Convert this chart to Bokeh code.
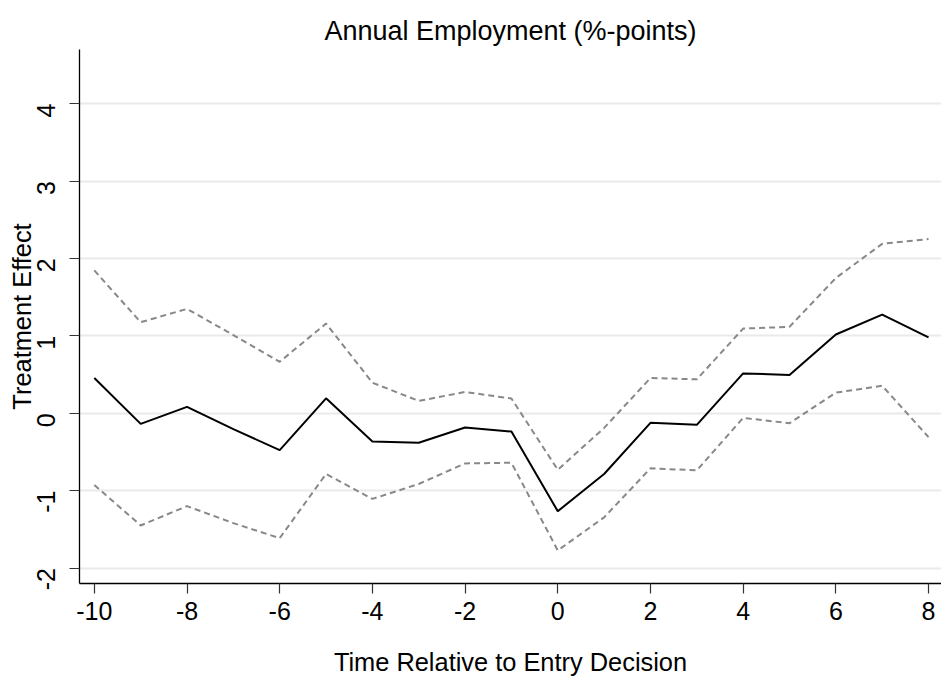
import math
from bokeh.plotting import figure
from bokeh.models import FixedTicker, Range1d, ColumnDataSource
from bokeh.embed import file_html
from bokeh.resources import INLINE

# ---- data ----
years = [-10, -9, -8, -7, -6, -5, -4, -3, -2, -1, 0, 1, 2, 3, 4, 5, 6, 7, 8]
estimate = [0.455, -0.137, 0.082, -0.206, -0.476, 0.193, -0.365, -0.382, -0.185, -0.236,
            -1.266, -0.785, -0.124, -0.150, 0.515, 0.494, 1.017, 1.275, 0.980]
upper_ci = [1.845, 1.176, 1.348, 1.010, 0.665, 1.159, 0.395, 0.159, 0.275, 0.190,
            -0.730, -0.190, 0.455, 0.438, 1.094, 1.116, 1.747, 2.189, 2.250]
lower_ci = [-0.927, -1.450, -1.200, -1.420, -1.614, -0.785, -1.107, -0.914, -0.648, -0.640,
            -1.773, -1.345, -0.712, -0.738, -0.060, -0.129, 0.266, 0.355, -0.308]
x_ticks = [-10, -8, -6, -4, -2, 0, 2, 4, 6, 8]
y_ticks = [-2, -1, 0, 1, 2, 3, 4]

title_text = "Annual Employment (%-points)"
x_label = "Time Relative to Entry Decision"
y_label = "Treatment Effect"

FONT = "Liberation Sans"

src = ColumnDataSource(dict(x=years, est=estimate, up=upper_ci, lo=lower_ci))

p = figure(width=941, height=678, output_backend="svg", toolbar_location=None,
           x_range=Range1d(-10.32, 8.28), y_range=Range1d(-2.20, 4.70),
           min_border_left=79, min_border_right=0, min_border_top=49, min_border_bottom=93,
           title=title_text)

p.background_fill_color = "white"
p.border_fill_color = "white"
p.outline_line_color = None

# title
p.title.text_font = FONT
p.title.text_font_size = "27px"
p.title.text_font_style = "normal"
p.title.text_color = "black"
p.title.align = "center"
p.title.standoff = 7

# grid
p.xgrid.grid_line_color = None
p.ygrid.grid_line_color = "#eaeaea"
p.ygrid.grid_line_width = 2
p.ygrid.ticker = FixedTicker(ticks=y_ticks)

# axes
for ax in (p.xaxis[0], p.yaxis[0]):
    ax.axis_line_color = "black"
    ax.axis_line_width = 1.3
    ax.major_tick_line_color = "#333333"
    ax.major_tick_line_width = 1.2
    ax.major_tick_out = 10
    ax.major_tick_in = 0
    ax.minor_tick_line_color = None
    ax.major_label_text_font = FONT
    ax.major_label_text_font_size = "25px"
    ax.major_label_text_color = "black"
    ax.axis_label_text_font = FONT
    ax.axis_label_text_font_size = "25.4px"
    ax.axis_label_text_font_style = "normal"
    ax.axis_label_text_color = "black"

p.xaxis.ticker = FixedTicker(ticks=x_ticks)
p.yaxis.ticker = FixedTicker(ticks=y_ticks)
p.xaxis.major_label_overrides = {t: str(t) for t in x_ticks}
p.yaxis.major_label_overrides = {t: str(t) for t in y_ticks}
p.xaxis.axis_label = x_label
p.yaxis.axis_label = y_label
p.xaxis.major_label_standoff = 8
p.xaxis.axis_label_standoff = 25
p.yaxis.major_label_standoff = 23
p.yaxis.axis_label_standoff = -10
p.yaxis.major_label_orientation = math.pi / 2

# lines
p.line("x", "up", source=src, line_color="#888888", line_width=2, line_dash="6 4")
p.line("x", "lo", source=src, line_color="#888888", line_width=2, line_dash="6 4")
p.line("x", "est", source=src, line_color="black", line_width=2)

open("out.html", "w").write(file_html(p, INLINE))
